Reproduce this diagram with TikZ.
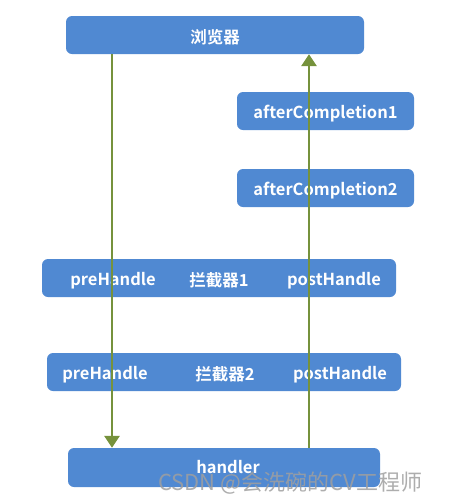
\documentclass[tikz,border=0pt]{standalone}
\usepackage{fontspec}
\setmainfont{Noto Sans CJK SC}
\newfontfamily\boldcjk{Noto Sans CJK SC Bold}
\usetikzlibrary{arrows.meta}
\definecolor{boxblue}{HTML}{5089D2}
\definecolor{flowgreen}{HTML}{76923C}
\tikzset{
  box/.style={draw=none, fill=boxblue, rounded corners=6pt, inner sep=0pt},
  lbl/.style={text=white, font=\boldcjk\fontsize{16.5}{18}\selectfont, inner sep=0pt, yshift=-2.5pt},
  flow/.style={draw=flowgreen, line width=2.8pt, -{Triangle[width=15pt,length=12pt]}, shorten >=0pt},
}
\begin{document}
\begin{tikzpicture}[x=1pt,y=-1pt]
\useasboundingbox (0,0) rectangle (459,499);
% boxes
\node[box, minimum width=298pt, minimum height=38pt] (browser) at (215,35) {};
\node[box, minimum width=177pt, minimum height=38pt] (ac1) at (325.5,111) {};
\node[box, minimum width=177pt, minimum height=38pt] (ac2) at (325.5,188) {};
\node[box, minimum width=354pt, minimum height=38pt] (int1) at (219,278) {};
\node[box, minimum width=354pt, minimum height=38pt] (int2) at (224,372) {};
\node[box, minimum width=312pt, minimum height=39pt] (handler) at (224,467.5) {};
% labels
\node[lbl] (tbrowser) at (browser.center) {浏览器};
\node[lbl] (tac1) at (ac1.center) {afterCompletion1};
\node[lbl] (tac2) at (ac2.center) {afterCompletion2};
\node[lbl] (pre1) at (113,278) {preHandle};
\node[lbl] (name1) at (219,278) {拦截器1};
\node[lbl] (post1) at (334,278) {postHandle};
\node[lbl] (pre2) at (105,372) {preHandle};
\node[lbl] (name2) at (225,372) {拦截器2};
\node[lbl] (post2) at (340,372) {postHandle};
\node[lbl] (thandler) at (228,465) {handler};
% connectors
\coordinate (lx) at (112,0);
\coordinate (rx) at (309,0);
\draw[flow] (lx |- browser.south) -- (lx |- handler.north);
\draw[flow] (rx |- handler.north) -- (rx |- browser.south);
% watermark
\node[text=gray!75, opacity=0.85, font=\fontsize{22}{24}\selectfont, inner sep=0pt, anchor=west] (wm) at (158,483) {CSDN @会洗碗的CV工程师};
\end{tikzpicture}
\end{document}
